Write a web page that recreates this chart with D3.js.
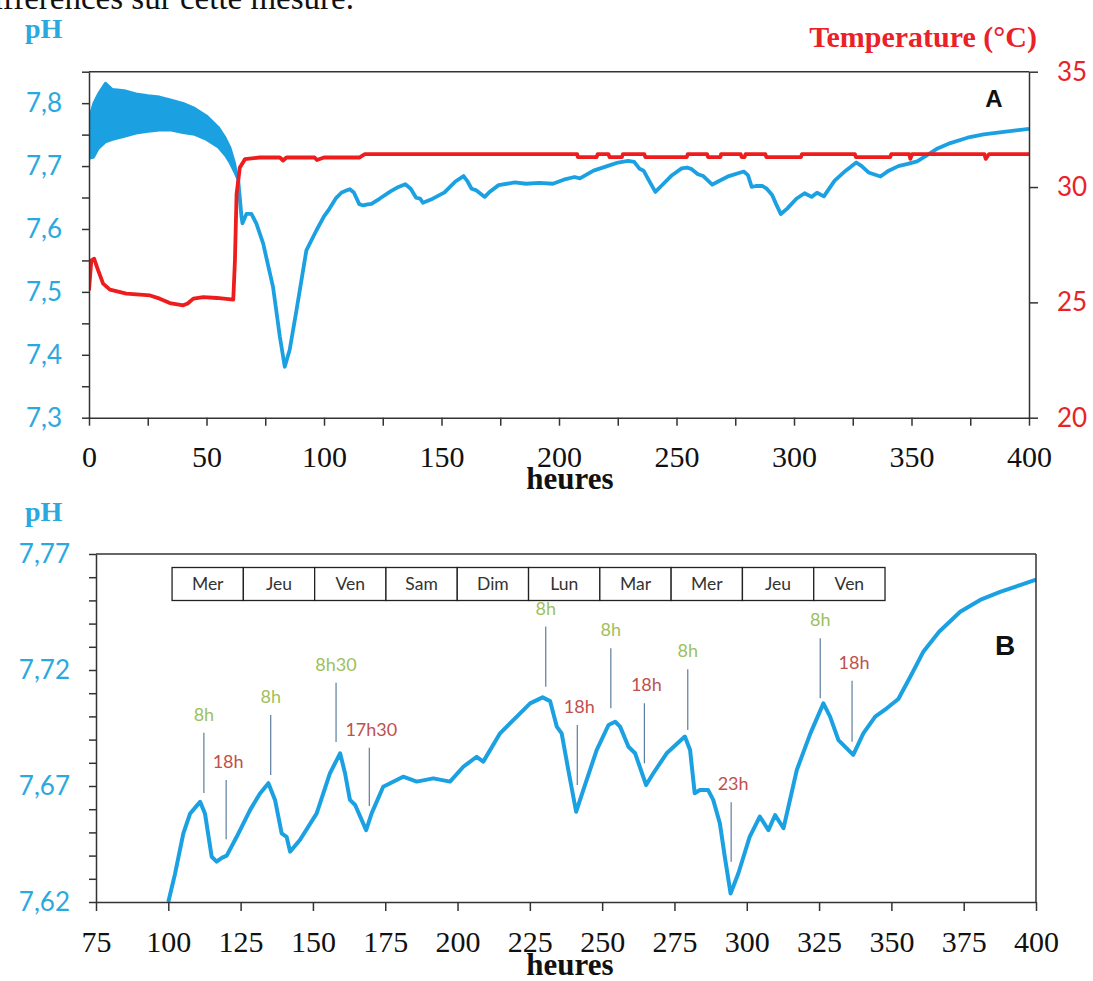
<!DOCTYPE html>
<html><head><meta charset="utf-8">
<script src="https://cdn.jsdelivr.net/npm/d3@7"></script>
<style>body{margin:0;background:#fff}svg{display:block}</style></head>
<body><svg id="c" width="1093" height="981"></svg>
<script>
// ---------- DATA ----------
// Panel A: noisy pH band before heating (upper/lower envelope)
const bandHours = [0,2,4,7,10,15,20,25,30,35,40,45,50,55,58,60,62,63.5];
const bandUpper = [7.775,7.80,7.815,7.832,7.822,7.82,7.815,7.812,7.81,7.805,7.80,7.792,7.78,7.762,7.745,7.73,7.705,7.677];
const bandLower = [7.712,7.714,7.728,7.738,7.742,7.747,7.752,7.755,7.757,7.757,7.753,7.75,7.742,7.73,7.717,7.705,7.69,7.677];
// Panel A: pH after the band, before 100 h
const phEarlyHours  = [63.5,64.9,65.3,67,69.1,71.2,74.1,78.3,81.2,83.3,85.4,88.3,92.5,96.8];
const phEarlyValues = [7.677,7.619,7.609,7.624,7.624,7.609,7.577,7.508,7.429,7.381,7.408,7.471,7.566,7.598];
// pH from 100 h to 400 h (panel B, and panel A continuation)
const phHours = [100,102.3,105.2,107.5,109.5,111,112.7,115,116.7,118.5,120.2,123.6,128.3,131.7,134.6,136.9,139.2,140.9,142.1,145.5,151.3,155.9,159.4,161.1,162.8,164.6,168.4,170.3,174.3,181.2,185.9,191.6,197.4,202,206.6,208.9,214.7,220.5,225.1,229.4,232,234.3,236,238.3,241,243.5,248.1,252.2,254.5,256.2,259.1,261.4,265.2,267.7,272.3,278.6,280.4,282,283.8,286.6,288.4,290.7,292.4,294.4,297.1,301,304.5,307.5,309.8,312.7,317.3,322,326.5,328.8,331.7,336.8,340.3,344.4,348.4,352.4,356.5,361.1,366.5,373.8,380.7,387.6,394.5,400];
const phValues = [7.620,7.632,7.6496,7.658,7.661,7.6632,7.658,7.6395,7.6374,7.639,7.640,7.648,7.6597,7.6668,7.6712,7.664,7.6496,7.6481,7.6417,7.6467,7.6582,7.6755,7.6841,7.6755,7.664,7.6618,7.651,7.6582,7.6697,7.674,7.6719,7.6733,7.6719,7.6783,7.6826,7.6805,7.6927,7.6999,7.7056,7.7082,7.7066,7.6956,7.6927,7.6769,7.6589,7.6683,7.6855,7.6963,7.6977,7.6956,7.6869,7.6841,7.6704,7.6755,7.6841,7.6913,7.6855,7.6669,7.6683,7.6683,7.664,7.6539,7.6395,7.6237,7.6324,7.6481,7.6568,7.651,7.6575,7.6518,7.6769,7.6927,7.7056,7.6999,7.6898,7.6834,7.6927,7.6999,7.7035,7.7075,7.717,7.728,7.7365,7.7451,7.7502,7.7537,7.7566,7.759];
// Temperature (°C), panel A
const tempHours  = [0,1,2.2,3.9,6,8.9,15.9,26,30.1,34.4,40.1,42,44.4,48.7,54.4,61.4,62.1,62.8,64.2,66.4,72.7,81.2,82.6,84,96,97,100,115,117.4,207.7,208,216,216.5,221,221.5,226.8,227.2,236.3,236.7,254.4,254.8,263,263.4,268.7,269,277.3,277.7,279,279.4,287.8,288.2,303,303.4,325.9,326.3,341,341.4,349,349.5,350.3,381,381.6,383,400];
const tempValues = [25.52,26.82,26.89,26.39,25.81,25.55,25.38,25.30,25.16,24.97,24.87,24.95,25.16,25.23,25.19,25.12,26.82,29.70,30.85,31.21,31.28,31.28,31.15,31.28,31.28,31.17,31.28,31.28,31.43,31.43,31.3,31.3,31.43,31.43,31.3,31.3,31.43,31.43,31.3,31.3,31.43,31.43,31.3,31.3,31.43,31.43,31.3,31.3,31.43,31.43,31.3,31.3,31.43,31.43,31.3,31.3,31.43,31.43,31.22,31.43,31.43,31.22,31.43,31.43];
// Tick values
const xTicksA = d3.range(0, 401, 25);
const phTicksA = d3.range(0, 12).map(i => 7.3 + i * 0.05);
const tempTicks = [20, 25, 30, 35];
const xTicksB = d3.range(75, 401, 25);
const phTicksB = d3.range(0, 16).map(i => 7.62 + i * 0.01);
// Panel B day table
const days = ["Mer","Jeu","Ven","Sam","Dim","Lun","Mar","Mer","Jeu","Ven"];
const tableStartHour = 101.3;
const tableDayHours = 24.65;
// Panel B annotations
const annotHours  = [112.3,120,135.4,158,169.5,230.5,241.4,253,264.6,279.6,294.6,325.4,336.4];
const annotLabels = ["8h","18h","8h","8h30","17h30","8h","18h","8h","18h","8h","23h","8h","18h"];
const annotKinds  = ["am","pm","am","am","pm","am","pm","am","pm","am","pm","am","pm"];
const annotTop    = [7.693,7.6726,7.7006,7.7145,7.6865,7.7387,7.6963,7.7294,7.7057,7.7203,7.663,7.7337,7.7154];
const annotBottom = [7.667,7.647,7.6747,7.689,7.6614,7.7128,7.6704,7.7035,7.6798,7.6941,7.6374,7.7078,7.6891];

// ---------- STYLE ----------
const BLUE = "#1ba1e2", RED = "#ee1c1c";
const BLUE_TXT = "#2aa9e0", RED_TXT = "#ea2228";
const AXIS = "#333";
const SERIF = "'Liberation Serif', 'DejaVu Serif', serif";
const SANS = "Lato, 'Open Sans', sans-serif";

const svg = d3.select("#c");

// top clipped text line
svg.append("text").attr("x", 354).attr("y", 9).attr("text-anchor", "end")
  .attr("font-family", SERIF).attr("font-size", 33).attr("fill", "#111")
  .text("différences sur cette mesure.");

function styleAxis(g, color, size, family) {
  g.selectAll("path.domain").attr("stroke", AXIS).attr("stroke-width", 1.5);
  g.selectAll(".tick line").attr("stroke", AXIS).attr("stroke-width", 1.5);
  g.selectAll(".tick text").attr("fill", color).attr("font-size", size).attr("font-family", family);
}

// ---------- PANEL A ----------
const A = {l: 89, r: 1029, t: 71.7, b: 417.7};
const xA = d3.scaleLinear().domain([0, 400]).range([A.l, A.r]);
const yA = d3.scaleLinear().domain([7.3, 7.85]).range([A.b, A.t]);
const tA = d3.scaleLinear().domain([20, 35]).range([A.b, A.t]);

svg.append("clipPath").attr("id", "clipA").append("rect")
  .attr("x", A.l).attr("y", A.t).attr("width", A.r - A.l).attr("height", A.b - A.t);

const gA = svg.append("g").attr("clip-path", "url(#clipA)");
const band = bandHours.map((h, i) => ({h, u: bandUpper[i], lo: bandLower[i]}));
gA.append("path").datum(band)
  .attr("d", d3.area().x(d => xA(d.h)).y0(d => yA(d.lo)).y1(d => yA(d.u)))
  .attr("fill", BLUE).attr("stroke", BLUE).attr("stroke-width", 2.5).attr("stroke-linejoin", "round");
const phAll = phEarlyHours.map((h, i) => ({h, v: phEarlyValues[i]}))
  .concat(phHours.map((h, i) => ({h, v: phValues[i]})));
gA.append("path").datum(phAll)
  .attr("d", d3.line().x(d => xA(d.h)).y(d => yA(d.v)))
  .attr("fill", "none").attr("stroke", BLUE).attr("stroke-width", 3.8).attr("stroke-linejoin", "round");
const temp = tempHours.map((h, i) => ({h, v: tempValues[i]}));
gA.append("path").datum(temp)
  .attr("d", d3.line().x(d => xA(d.h)).y(d => tA(d.v)))
  .attr("fill", "none").attr("stroke", RED).attr("stroke-width", 3.8).attr("stroke-linejoin", "round");

// axes A
const axXA = svg.append("g").attr("transform", `translate(0,${A.b})`)
  .call(d3.axisBottom(xA).tickValues(xTicksA).tickSize(8).tickPadding(20).tickSizeOuter(0)
    .tickFormat(d => d % 50 === 0 ? d : ""));
styleAxis(axXA, "#111", 30, SERIF);
const axYA = svg.append("g").attr("transform", `translate(${A.l},0)`)
  .call(d3.axisLeft(yA).tickValues(phTicksA).tickSize(7).tickPadding(20).tickSizeOuter(0)
    .tickFormat(d => (Math.round(d * 100) % 10 === 0 && d < 7.84) ? d.toFixed(1).replace(".", ",") : ""));
styleAxis(axYA, BLUE_TXT, 26, SANS);
const axTA = svg.append("g").attr("transform", `translate(${A.r},0)`)
  .call(d3.axisRight(tA).tickValues(tempTicks).tickSize(9).tickPadding(19).tickSizeOuter(0).tickFormat(d3.format("d")));
styleAxis(axTA, RED_TXT, 26, SANS);
svg.append("line").attr("x1", A.l).attr("x2", A.r).attr("y1", A.t).attr("y2", A.t)
  .attr("stroke", AXIS).attr("stroke-width", 1.5);

svg.append("text").attr("x", 25).attr("y", 38).attr("font-family", SERIF).attr("font-weight", "bold")
  .attr("font-size", 28).attr("fill", BLUE_TXT).text("pH");
svg.append("text").attr("x", 1037).attr("y", 47).attr("text-anchor", "end").attr("font-family", SERIF)
  .attr("font-weight", "bold").attr("font-size", 30).attr("fill", RED_TXT).text("Temperature (°C)");
svg.append("text").attr("x", 570).attr("y", 489).attr("text-anchor", "middle").attr("font-family", SERIF)
  .attr("font-weight", "bold").attr("font-size", 31).attr("fill", "#111").text("heures");
svg.append("text").attr("x", 994).attr("y", 107).attr("text-anchor", "middle")
  .attr("font-family", "'Liberation Sans', Arial, sans-serif").attr("font-weight", "bold")
  .attr("font-size", 24).attr("fill", "#111").text("A");

// ---------- PANEL B ----------
const B = {l: 96, r: 1036, t: 554, b: 902};
const xB = d3.scaleLinear().domain([75, 400]).range([B.l, B.r]);
const yB = d3.scaleLinear().domain([7.62, 7.77]).range([B.b, B.t]);

svg.append("clipPath").attr("id", "clipB").append("rect")
  .attr("x", B.l).attr("y", B.t).attr("width", B.r - B.l).attr("height", B.b - B.t);

// day table
const tbl = svg.append("g");
days.forEach((d, i) => {
  const x0 = xB(tableStartHour + i * tableDayHours), x1 = xB(tableStartHour + (i + 1) * tableDayHours);
  tbl.append("rect").attr("x", x0).attr("y", B.t + 13.5).attr("width", x1 - x0).attr("height", 33)
    .attr("fill", "#fff").attr("stroke", "#222").attr("stroke-width", 1.3);
  tbl.append("text").attr("x", (x0 + x1) / 2).attr("y", B.t + 36).attr("text-anchor", "middle")
    .attr("font-family", SANS).attr("font-size", 17.5).attr("fill", "#333").text(d);
});

// annotations
const ann = svg.append("g");
annotHours.forEach((h, i) => {
  ann.append("line").attr("x1", xB(h)).attr("x2", xB(h)).attr("y1", yB(annotTop[i])).attr("y2", yB(annotBottom[i]))
    .attr("stroke", "#5d7c9e").attr("stroke-width", 1.2);
  ann.append("text").attr("x", xB(h) + (annotKinds[i] === "pm" ? 2 : 0)).attr("y", yB(annotTop[i]) - 12)
    .attr("text-anchor", "middle").attr("font-family", SANS).attr("font-size", 18)
    .attr("fill", annotKinds[i] === "am" ? "#9dc05c" : "#c0504d").text(annotLabels[i]);
});

const gB = svg.append("g").attr("clip-path", "url(#clipB)");
gB.append("path").datum(phHours.map((h, i) => ({h, v: phValues[i]})))
  .attr("d", d3.line().x(d => xB(d.h)).y(d => yB(d.v)))
  .attr("fill", "none").attr("stroke", BLUE).attr("stroke-width", 4).attr("stroke-linejoin", "round");

const axXB = svg.append("g").attr("transform", `translate(0,${B.b})`)
  .call(d3.axisBottom(xB).tickValues(xTicksB).tickSize(9).tickPadding(20).tickSizeOuter(0).tickFormat(d3.format("d")));
styleAxis(axXB, "#111", 30, SERIF);
const axYB = svg.append("g").attr("transform", `translate(${B.l},0)`)
  .call(d3.axisLeft(yB).tickValues(phTicksB).tickSize(7).tickPadding(19).tickSizeOuter(0)
    .tickFormat(d => Math.round(d * 100 - 762) % 5 === 0 ? d.toFixed(2).replace(".", ",") : ""));
styleAxis(axYB, BLUE_TXT, 26, SANS);
svg.append("line").attr("x1", B.l).attr("x2", B.r).attr("y1", B.t).attr("y2", B.t)
  .attr("stroke", AXIS).attr("stroke-width", 1.5);
svg.append("line").attr("x1", B.r).attr("x2", B.r).attr("y1", B.t).attr("y2", B.b)
  .attr("stroke", AXIS).attr("stroke-width", 1.5);

svg.append("text").attr("x", 25).attr("y", 521).attr("font-family", SERIF).attr("font-weight", "bold")
  .attr("font-size", 28).attr("fill", BLUE_TXT).text("pH");
svg.append("text").attr("x", 570).attr("y", 975).attr("text-anchor", "middle").attr("font-family", SERIF)
  .attr("font-weight", "bold").attr("font-size", 31).attr("fill", "#111").text("heures");
svg.append("text").attr("x", 1005).attr("y", 655).attr("text-anchor", "middle")
  .attr("font-family", "'Liberation Sans', Arial, sans-serif").attr("font-weight", "bold")
  .attr("font-size", 28).attr("fill", "#111").text("B");
</script></body></html>
